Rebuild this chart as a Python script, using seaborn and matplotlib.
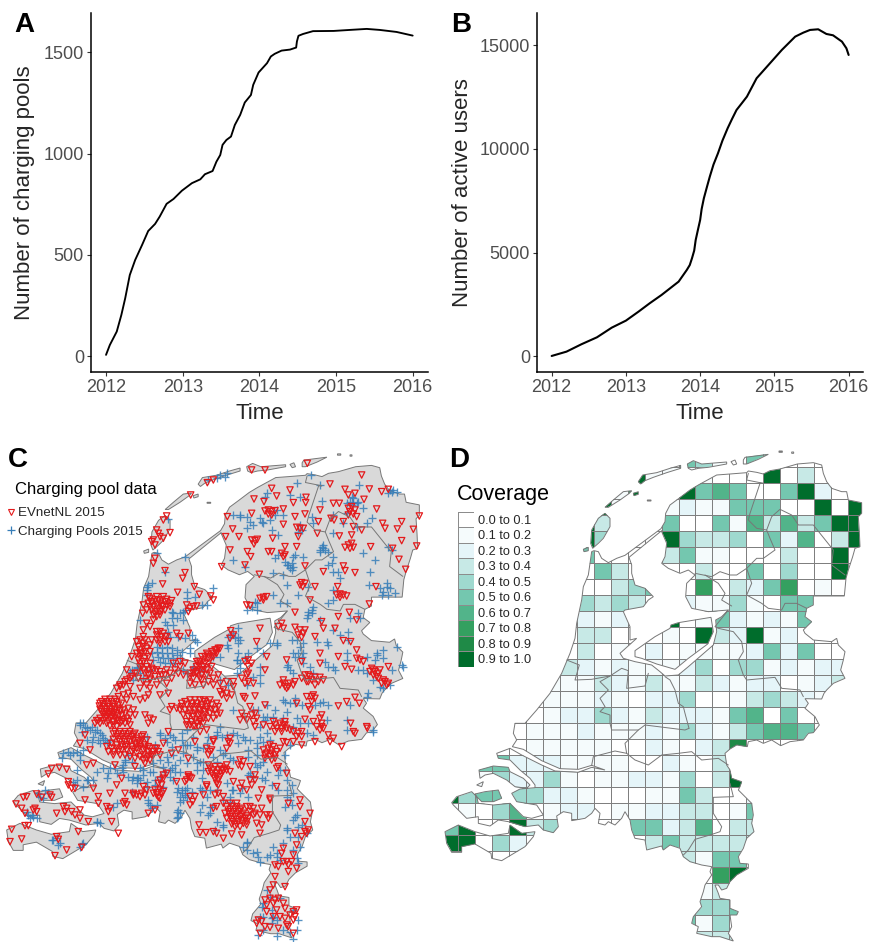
import matplotlib
matplotlib.use('Agg')
import matplotlib.pyplot as plt
import numpy as np
import pandas as pd
import seaborn as sns
from matplotlib.colors import ListedColormap
from matplotlib.lines import Line2D
from matplotlib.patches import PathPatch
from matplotlib.path import Path

pool_years = [2012, 2012.05, 2012.14, 2012.2, 2012.25, 2012.31, 2012.38, 2012.47, 2012.55, 2012.64, 2012.7, 2012.79,
              2012.88, 2012.99, 2013.12, 2013.23, 2013.29, 2013.39, 2013.44, 2013.49, 2013.52, 2013.57, 2013.63,
              2013.68, 2013.75, 2013.81, 2013.89, 2013.92, 2013.99, 2014.1, 2014.15, 2014.2, 2014.29, 2014.4,
              2014.48, 2014.49, 2014.51, 2014.57, 2014.7, 2014.97, 2015.18, 2015.4, 2015.57, 2015.79, 2016]
pool_counts = [7, 56, 122, 204, 286, 401, 475, 549, 618, 653, 689, 752, 776, 817, 854, 873, 898, 914, 960, 993, 1043,
               1067, 1084, 1141, 1191, 1252, 1289, 1339, 1400, 1446, 1479, 1492, 1508, 1513, 1523, 1553, 1581, 1590,
               1604, 1605, 1610, 1615, 1610, 1600, 1582]
user_years = [2012, 2012.2, 2012.4, 2012.61, 2012.81, 2013, 2013.17, 2013.32, 2013.48, 2013.71, 2013.82, 2013.86, 2013.89,
              2013.92, 2013.94, 2013.97, 2014, 2014.02, 2014.05, 2014.09, 2014.13, 2014.18, 2014.24, 2014.3, 2014.37, 2014.43,
              2014.49, 2014.56, 2014.63, 2014.76, 2014.92, 2015.1, 2015.28, 2015.39, 2015.48, 2015.59, 2015.7, 2015.79,
              2015.91, 2015.97, 2016]
user_counts = [16, 225, 579, 916, 1383, 1720, 2154, 2556, 2958, 3601, 4164, 4400, 4727, 5100, 5611, 6100, 6576, 7100,
               7621, 8150, 8666, 9250, 9791, 10400, 10997, 11450, 11881, 12200, 12524, 13408, 14051, 14775, 15418, 15611,
               15740, 15772, 15547, 15482, 15177, 14855, 14534]
years = [2012, 2013, 2014, 2015, 2016]

# map outlines, in thirds of a pixel of the panel D map
main_ring = [(470,335),(477,332),(490,335),(500,355),(520,368),(545,355),(570,346),(678,266),(690,245),(692,220),(705,195),
             (732,175),(765,150),(790,135),(845,105),(885,102),(935,98),(940,93),(965,97),(985,102),(1005,92),(1035,87),
             (1087,72),(1135,68),(1160,75),(1165,100),(1175,125),(1190,145),(1220,155),(1235,155),(1240,180),(1280,188),
             (1280,220),(1270,230),(1273,275),(1275,320),(1260,325),(1253,350),(1240,390),(1233,415),(1228,468),(1135,468),
             (1135,495),(1115,505),(1110,530),(1130,545),(1105,570),(1110,580),(1135,600),(1190,605),(1205,595),(1210,615),
             (1230,635),(1225,660),(1217,690),(1230,715),(1195,730),(1175,750),(1167,760),(1160,777),(1110,776),(1120,790),
             (1110,805),(1140,830),(1153,855),(1135,878),(1120,880),(1105,900),(1065,905),(1037,917),(1010,900),(985,910),
             (965,900),(940,905),(937,920),(905,915),(885,927),(870,940),(875,975),(885,990),(890,1015),(920,1025),(915,1040),
             (910,1050),(930,1070),(950,1090),(955,1125),(950,1150),(957,1175),(935,1195),(925,1225),(910,1250),(915,1270),
             (940,1272),(940,1285),(905,1305),(885,1325),(875,1345),(860,1350),(850,1335),(840,1335),(850,1360),(855,1375),
             (885,1380),(885,1405),(910,1415),(905,1425),(885,1425),(890,1460),(880,1480),(895,1503),(855,1490),(830,1490),
             (785,1480),(790,1460),(770,1450),(775,1430),(800,1400),(795,1385),(805,1355),(810,1335),(830,1305),(825,1295),
             (830,1280),(800,1275),(765,1265),(745,1250),(735,1225),(705,1215),(685,1230),(680,1218),(635,1230),(630,1200),
             (600,1195),(590,1170),(585,1140),(570,1115),(560,1135),(540,1155),(520,1145),(510,1155),(490,1150),(495,1120),
             (480,1105),(470,1120),(450,1135),(410,1142),(410,1120),(385,1115),(365,1128),(370,1160),(355,1178),(325,1170),
             (310,1155),(270,1160),(220,1145),(190,1140),(165,1158),(130,1150),(130,1130),(95,1135),(55,1095),(50,1088),
             (65,1070),(110,1055),(125,1070),(130,1090),(175,1095),(225,1090),(265,1130),(290,1135),(325,1125),(305,1095),
             (245,1085),(230,1060),(255,1047),(300,1043),(300,1035),(285,1015),(255,990),(225,960),(190,955),(185,940),
             (225,925),(260,945),(320,975),(360,993),(430,997),(470,982),(510,990),(470,976),(430,988),(375,986),(320,962),
             (265,928),(232,920),(245,900),(235,880),(240,850),(270,850),(305,810),(345,760),(380,700),(405,640),(420,595),
             (425,550),(440,480),(445,440),(460,405),(465,370)]
lake_ring = [(582,352),(590,375),(590,400),(600,435),(630,445),(655,470),(640,480),(625,500),(570,510),(565,515),(585,560),
             (585,600),(605,595),(555,640),(565,655),(600,665),(650,675),(675,695),(690,708),(730,705),(760,680),(835,615),
             (845,575),(842,540),(860,530),(880,510),(820,515),(770,505),(752,470),(755,430),(780,405),(760,390),(735,400),
             (700,385),(680,370),(690,350),(695,310),(680,275),(680,272)]
flevoland_ring = [(600,632),(660,590),(705,565),(708,555),(730,548),(828,532),(835,575),(818,612),(760,655),(720,688),
                  (665,672),(620,655),(600,650)]
island_rings = [
    [(510,220),(525,235),(525,260),(505,295),(490,310),(473,325),(467,310),(470,270),(490,235)],
    [(445,328),(460,322),(460,332),(447,335)],
    [(510,202),(535,180),(565,155),(590,152),(583,160),(555,180),(520,202)],
    [(595,160),(610,155),(610,163),(597,167)],
    [(637,180),(648,180),(648,183),(637,183)],
    [(610,125),(623,105),(665,98),(705,85),(737,76),(737,85),(695,98),(655,112),(630,122),(617,132)],
    [(757,72),(775,62),(800,72),(875,66),(875,72),(820,82),(790,85),(770,90),(760,85)],
    [(888,65),(900,60),(905,72),(895,75)],
    [(925,60),(930,52),(1000,43),(970,58),(935,72),(925,72)],
    [(1032,33),(1042,33),(1042,37),(1032,37)],
    [(1070,36),(1076,36),(1076,40),(1070,40)],
    [(132,990),(175,978),(220,982),(225,995),(265,1015),(285,1035),(275,1045),(240,1040),(215,1020),(175,1000),(150,1005),(135,1015)],
    [(120,1062),(150,1055),(190,1050),(200,1075),(175,1085),(140,1085),(125,1070)],
    [(125,1035),(145,1025),(140,1040)],
    [(30,1175),(70,1155),(120,1175),(165,1188),(220,1180),(225,1155),(260,1180),(300,1175),(295,1190),(270,1220),(200,1262),
     (170,1255),(168,1240),(120,1212),(80,1220),(80,1237),(50,1237),(35,1210)],
]
province_lines = [
    [(940,100),(935,120),(985,130),(975,130),(965,160),(945,220),(940,240),(965,265),(995,270),(1010,230),(1035,208),(1070,225),
     (1090,255),(1135,255),(1195,330),(1190,375),(1230,405)],
    [(995,270),(1005,295),(1020,330),(985,355),(965,355),(935,385),(905,405),(885,405),(855,395),(830,410),(780,400)],
    [(935,385),(950,430),(935,465),(980,490),(1000,505),(1040,510),(1050,490),(1085,490),(1115,505)],
    [(810,405),(850,430),(870,460),(860,480),(890,498)],
    [(880,510),(840,560),(850,565),(895,575),(920,605),(925,635),(910,660),(925,705),(935,720),(1020,712),(1040,745),(1095,750),(1105,770)],
    [(395,660),(433,675),(420,720),(470,718),(525,708),(560,685),(580,692)],
    [(525,708),(495,725),(520,750),(495,775),(510,800),(495,815),(525,825),(525,850),(530,870),(610,870),(630,855),(750,870),(762,865)],
    [(580,692),(575,745),(630,738),(640,700)],
    [(690,710),(705,720),(720,750),(730,790),(745,800),(750,820),(762,865)],
    [(610,870),(570,910),(575,940)],
    [(470,976),(475,950),(540,933),(575,940),(600,960),(640,975),(680,945),(730,940),(770,935),(800,960),(850,955),(880,975)],
    [(885,1030),(895,1070),(835,1072),(835,1120),(860,1160),(855,1175),(825,1185),(780,1198),(760,1230),(745,1245)],
]

# coverage class per grid cell, 0 means 0.0 to 0.1 and 9 means 0.9 to 1.0
coverage_rows = [
    [0,0,0,0,0,0,0,0,0,0,0,0,0,0,0,0,0,0,0,0,0,0,0,0,0],
    [0,0,0,0,0,0,0,0,0,0,0,0,0,0,5,4,1,0,5,5,0,0,0,0,0],
    [0,0,0,0,0,0,0,0,0,0,0,9,1,1,1,1,0,0,0,9,0,3,0,0,0],
    [0,0,0,0,0,0,0,0,0,0,1,9,0,0,9,5,6,5,0,0,5,9,2,0,0],
    [0,0,0,0,0,0,0,0,0,9,1,0,0,1,2,1,1,5,5,5,0,0,9,0,9],
    [0,0,0,0,0,0,0,0,9,3,0,0,0,5,0,0,5,1,6,3,6,3,5,9,9],
    [0,0,0,0,0,0,0,0,9,4,0,0,0,9,4,3,3,4,0,5,2,6,0,3,9],
    [0,0,0,0,0,0,0,0,5,0,0,0,0,3,5,1,1,0,0,0,3,0,0,9,0],
    [0,0,0,0,0,0,0,0,0,5,3,0,0,0,0,3,0,0,5,0,4,0,0,9,0],
    [0,0,0,0,0,0,0,0,0,0,3,4,5,0,0,7,0,3,2,5,7,0,1,0,0],
    [0,0,0,0,0,0,0,0,4,3,4,3,0,0,2,1,1,4,1,0,5,5,0,0,0],
    [0,0,0,0,0,0,0,0,2,1,2,0,0,9,0,1,5,2,1,2,1,5,0,0,0],
    [0,0,0,0,0,0,0,0,3,3,0,0,0,1,0,9,3,2,9,1,2,0,0,0,0],
    [0,0,0,0,0,0,0,0,3,0,1,0,2,0,1,1,1,1,2,5,2,5,0,0,0],
    [0,0,0,0,0,0,0,3,2,1,2,1,1,1,2,4,0,4,4,1,2,1,2,2,0],
    [0,0,0,0,0,0,1,1,1,3,2,1,3,1,1,3,2,1,2,2,0,1,2,3,0],
    [0,0,0,0,0,0,1,1,1,2,1,0,2,2,4,0,0,1,3,4,3,2,1,0,0],
    [0,0,0,0,0,0,1,2,2,4,2,1,3,2,2,2,1,5,6,0,5,0,0,0,0],
    [0,0,0,0,0,1,1,1,2,1,1,1,2,1,4,2,1,3,5,6,6,5,0,0,0],
    [0,0,0,0,0,1,1,1,1,1,0,0,2,1,0,2,3,8,0,0,0,0,0,0,0],
    [0,0,5,5,2,2,2,1,1,1,1,0,0,2,1,0,3,0,0,0,0,0,0,0,0],
    [0,0,1,4,2,2,4,1,0,1,1,2,2,1,4,0,3,9,0,0,0,0,0,0,0],
    [9,4,5,5,4,4,2,2,1,0,0,0,1,1,5,3,0,0,2,0,0,0,0,0,0],
    [1,1,0,4,6,0,1,2,2,0,1,1,2,2,3,3,0,1,5,0,0,0,0,0,0],
    [5,9,0,0,9,3,4,0,0,0,0,5,5,2,3,6,0,3,3,0,0,0,0,0,0],
    [9,9,0,4,2,0,0,0,0,0,0,0,3,5,3,3,3,3,3,0,0,0,0,0,0],
    [9,0,0,0,0,0,0,0,0,0,0,0,0,0,3,1,5,5,0,0,0,0,0,0,0],
    [0,0,0,0,0,0,0,0,0,0,0,0,0,0,0,0,7,9,0,0,0,0,0,0,0],
    [0,0,0,0,0,0,0,0,0,0,0,0,0,0,0,1,3,0,0,0,0,0,0,0,0],
    [0,0,0,0,0,0,0,0,0,0,0,0,0,0,0,4,4,5,0,0,0,0,0,0,0],
    [0,0,0,0,0,0,0,0,0,0,0,0,0,0,5,1,4,0,0,0,0,0,0,0,0],
    [0,0,0,0,0,0,0,0,0,0,0,0,0,0,0,3,3,3,0,0,0,0,0,0,0],
]
coverage_labels = ['0.0 to 0.1', '0.1 to 0.2', '0.2 to 0.3', '0.3 to 0.4', '0.4 to 0.5',
                   '0.5 to 0.6', '0.6 to 0.7', '0.7 to 0.8', '0.8 to 0.9', '0.9 to 1.0']
coverage_colors = ['#FFFFFF', '#F5FBFC', '#E5F5F9', '#C7E9E6', '#9FD9CF',
                   '#74C7AF', '#52B48A', '#34A060', '#1F8A47', '#006D2C']

# charging points in panel C, thirds of a pixel; *_north from y 440 down, *_south from y 690 down
evnet_north = [(622,128),(640,120),(755,90),(795,90),(922,70),(572,165),(500,228),(490,240),(470,270),(480,290),(490,295),(510,278),
    (455,305),(465,315),(460,300),(475,280),(465,355),(460,370),(495,392),(555,398),(488,432),(548,415),(583,440),(533,457),(598,463),
    (632,468),(640,480),(450,475),(465,480),(480,490),(495,485),(510,490),(460,500),(475,505),(490,500),(465,520),(480,515),(430,495),
    (428,520),(440,510),(560,495),(570,505),(580,500),(590,498),(565,515),(440,550),(430,570),(450,560),(460,540),(470,585),(485,590),
    (495,605),(480,600),(490,580),(410,605),(430,590),(415,620),(530,580),(540,590),(565,580),(430,610),(440,625),(425,640),(445,650),
    (430,665),(450,670),(430,690),(445,705),(650,630),(635,635),(620,640),(605,650),(625,655),(600,665),(615,670),(590,680),(692,572),
    (700,585),(690,595),(780,565),(770,605),(845,550),(835,560),(850,565),(885,562),(900,570),(910,580),(895,585),(905,592),(915,570),
    (945,590),(970,565),(965,545),(1005,565),(1030,602),(1052,605),(1070,630),(885,517),(1015,530),(1048,517),(1070,540),(815,145),
    (830,168),(870,150),(880,188),(918,172),(917,188),(762,177),(792,185),(755,220),(682,230),(698,267),(677,290),(717,290),(690,330),
    (742,335),(752,350),(665,380),(735,375),(778,403),(818,295),(895,290),(890,320),(850,207),(885,230),(915,222),(850,253),(960,210),
    (955,245),(952,280),(990,132),(1085,105),(1108,147),(1145,155),(1165,148),(1035,148),(1045,165),(1065,160),(1092,178),(1000,190),
    (1018,190),(1130,207),(1205,245),(1148,250),(1155,265),(1192,267),(1240,268),(1205,302),(1258,228),(1250,318),(1217,388),(1197,358),
    (1178,325),(1112,320),(1085,270),(1060,260),(1055,285),(1018,288),(1002,240),(1030,245),(993,235),(795,213),(805,210),(815,215),
    (825,212),(805,222),(815,225),(1045,205),(1055,200),(1065,210),(1050,215),(1060,222),(1070,230),(1045,225),(900,265),(890,262),
    (910,265),(755,300),(765,302),(772,298),(762,312),(1035,322),(1045,315),(1055,310),(1050,325),(1060,322),(805,335),(815,335),
    (845,340),(855,345),(850,350),(855,320),(905,428),(915,430),(900,435),(908,440),(1020,462),(1010,465),(1030,465),(1040,468),
    (1020,472),(790,472),(800,470),(780,475),(790,480),(740,495),(750,497),(915,378),(970,395),(1030,378),(1035,392),(1065,398),
    (1013,440),(945,440),(1128,440),(1108,492),(930,480),(1115,685),(1125,695),(1135,700),(1110,695),(1130,710),(1120,705),(1155,725),
    (1165,730),(1145,730),(1165,680),(1080,660),(1070,655),(1090,665),(1035,680),(1055,688),(1015,650),(960,640),(960,670),(905,665),
    (860,660),(800,650),(795,690),(745,660),(755,670),(735,665),(745,680),(740,705),(915,705),(930,710),(945,712),(925,725),(960,712),
    (850,720),(870,730),(855,740),(885,725),(540,665),(520,670),(500,690),(480,695),(460,690),(395,650),(380,690),(360,740),(610,690),
    (630,700),(570,700),(580,715),(605,720),(640,735),(360,735),(375,725),(390,715),(405,700),(415,715),(430,725),(450,720),(465,710),
    (480,720),(495,705),(510,700),(525,690),(540,680),(555,670),(570,730),(590,700),(600,715),(620,705),(625,725),(640,715),(660,730),
    (700,725),(735,730),(745,700),(850,730),(865,740),(880,735),(925,705),(935,720),(945,735),(860,745),(700,740),(500,730),(450,745),
    (420,745),(390,740),(420,600),(435,600),(450,615),(420,630),(435,635),(450,635),(420,650),(435,655),(420,670),(440,680),(455,685),
    (420,680),(435,700),(450,715),(470,690),(455,600),(470,600),(480,610),(495,590),(445,470),(455,485),(470,470),(485,480),(500,478),
    (515,482),(455,490),(470,495),(485,498),(500,495),(455,510),(470,515),(485,510),(470,530),(480,525),(460,525),(640,640),(655,625),
    (640,650),(625,645),(610,660),(595,670),(610,680),(625,670),(600,690),(590,695),(605,705),(620,690),(635,680),(580,690),(570,710),
    (650,640),(660,625),(635,650),(600,675),(580,700),(590,665),(615,650),(645,630),(420,640),(430,620),(410,640),(415,660),(425,680),
    (410,700),(445,690),(395,710),(380,720),(370,735),(350,745),(440,735),(470,735),(485,705),(515,715),(535,700),(550,705),(585,735),
    (610,735),(655,705),(680,725),(725,715),(745,725),(760,730),(840,735),(920,725),(905,715),(955,725),(970,720),(1120,690),(1135,715),
    (1150,720),(1140,690),(1160,735),(470,575),(480,575),(500,590),(505,605),(450,500),(445,490),(495,510),(510,500),(475,480),(490,470)]
evnet_south = [(305,35),(320,35),(335,35),(350,35),(365,40),(310,50),(325,50),(340,50),(355,55),(305,65),(320,65),(335,65),(350,70),(370,60),
    (385,55),(390,75),(300,85),(315,85),(330,85),(345,85),(370,90),(385,95),(285,100),(300,100),(320,100),(340,105),(360,100),(345,125),
    (360,125),(375,125),(390,125),(405,130),(350,140),(365,140),(380,140),(395,140),(410,145),(425,150),(360,155),(375,155),(390,155),
    (405,160),(420,160),(435,165),(320,170),(335,175),(350,175),(395,170),(410,175),(430,180),(445,185),(460,185),(475,185),(440,205),
    (430,210),(455,195),(355,20),(370,15),(385,10),(400,20),(420,30),(435,25),(445,15),(480,15),(505,10),(380,30),(560,45),(575,40),
    (590,40),(605,45),(620,50),(635,45),(570,60),(585,60),(600,60),(615,65),(630,70),(565,80),(580,80),(595,75),(610,85),(575,95),
    (590,100),(625,40),(515,50),(510,60),(530,55),(545,50),(665,15),(680,10),(695,15),(680,25),(670,0),(660,5),(725,70),(735,80),
    (755,75),(765,70),(760,95),(765,110),(720,90),(740,90),(770,85),(825,105),(840,100),(855,105),(830,115),(845,115),(820,95),(880,125),
    (895,130),(905,125),(880,155),(905,165),(915,88),(940,95),(965,75),(965,110),(960,120),(970,115),(985,135),(990,155),(1000,145),
    (1025,170),(945,155),(1015,48),(1040,35),(1078,40),(1065,22),(1052,100),(1065,130),(1060,125),(1100,110),(1102,115),(925,50),(930,60),
    (935,20),(945,25),(940,15),(890,40),(765,18),(750,50),(735,25),(730,20),(795,45),(805,175),(820,170),(800,190),(815,190),(830,185),
    (810,200),(825,205),(830,235),(835,230),(860,250),(850,155),(860,158),(630,235),(645,230),(660,230),(675,235),(635,250),(650,250),
    (665,250),(645,265),(655,270),(650,280),(720,210),(730,215),(715,225),(725,230),(765,255),(700,275),(750,270),(755,285),(740,300),
    (785,300),(830,290),(810,330),(720,295),(725,280),(465,300),(480,300),(490,305),(470,315),(480,325),(460,310),(435,315),(420,320),
    (425,310),(400,315),(570,320),(585,320),(578,335),(610,315),(570,345),(320,350),(330,355),(325,365),(375,335),(380,345),(370,340),
    (680,350),(695,350),(710,350),(725,355),(685,365),(700,365),(715,365),(730,370),(690,380),(705,380),(720,380),(735,385),(700,395),
    (715,395),(730,400),(705,410),(750,365),(765,370),(760,375),(800,375),(810,375),(805,385),(785,355),(650,350),(640,355),(645,315),
    (655,310),(620,285),(670,320),(597,405),(600,428),(618,428),(640,425),(650,430),(670,445),(695,432),(725,435),(785,405),(780,430),
    (740,395),(770,400),(900,330),(900,350),(865,340),(930,370),(915,395),(925,420),(920,430),(915,425),(885,430),(890,465),(905,440),
    (850,475),(845,490),(880,495),(860,515),(875,515),(865,525),(850,515),(825,525),(835,530),(890,535),(865,545),(825,560),(820,585),
    (855,590),(810,600),(795,630),(810,625),(825,630),(835,625),(800,645),(820,640),(850,640),(855,655),(830,660),(880,665),(890,660),
    (870,675),(885,680),(880,690),(775,690),(785,695),(770,700),(800,665),(820,680),(840,680),(860,705),(865,710),(780,730),(795,710),
    (810,712),(835,715),(855,685),(880,730),(240,160),(255,135),(270,180),(260,225),(280,220),(345,225),(405,230),(365,265),(350,285),
    (280,295),(255,330),(295,320),(295,340),(330,310),(375,310),(400,310),(445,370),(465,360),(335,395),(355,430),(430,290),(155,235),
    (178,232),(200,238),(145,252),(205,275),(205,285),(215,295),(225,295),(70,322),(80,320),(48,342),(110,312),(125,322),(150,315),
    (155,322),(65,355),(75,370),(105,355),(110,365),(100,360),(170,370),(190,350),(200,355),(195,365),(215,365),(240,360),(225,375),
    (240,385),(265,395),(35,418),(30,455),(65,447),(75,407),(85,407),(170,440),(175,448),(235,425),(165,497),(200,480),(245,472),(490,265),
    (480,270),(500,250),(530,275),(565,255),(570,262),(555,275),(620,290),(640,155),(690,145),(685,155),(630,185),(625,195),(600,125),
    (620,120),(585,155),(505,125),(535,180),(515,190),(565,205),(490,160),(445,100),(435,75),(450,85),(460,90),(680,240),(750,230),
    (680,175),(810,325),(775,325),(765,270),(300,40),(315,28),(330,28),(345,28),(310,42),(325,42),(340,42),(355,45),(300,58),(315,58),
    (330,58),(345,60),(360,62),(310,75),(325,75),(340,75),(355,78),(295,92),(310,93),(325,93),(340,95),(355,92),(375,70),(380,85),
    (375,100),(390,105),(400,60),(405,75),(340,132),(355,132),(370,132),(385,132),(400,135),(340,148),(355,148),(370,148),(385,148),
    (400,150),(415,152),(365,165),(380,165),(400,178),(420,170),(435,175),(450,175),(325,185),(340,185),(355,185),(430,195),(445,200),
    (460,195),(420,200),(470,175),(440,150),(430,135),(555,35),(570,30),(585,30),(600,30),(615,35),(630,30),(645,60),(555,60),(575,50),
    (590,50),(605,52),(620,58),(635,58),(570,70),(585,70),(600,70),(615,75),(585,90),(600,90),(570,105),(585,110),(600,95),(650,75),
    (660,70),(640,240),(655,240),(670,242),(640,258),(660,260),(650,260),(665,238),(690,358),(705,358),(720,360),(695,372),(710,372),
    (725,375),(695,388),(710,388),(725,392),(710,403),(720,410),(740,378),(472,308),(485,312),(475,322),(920,20),(935,35),(960,85),
    (950,110),(965,100),(790,105),(810,110),(825,125),(845,125),(860,115),(855,95),(890,140),(905,140),(815,180),(825,195),(795,205),
    (815,210),(565,260),(575,265),(560,270),(490,255),(475,280),(485,285),(440,300),(410,315),(620,175),(635,180),(640,150),(690,160),
    (298,48),(313,70),(328,70),(343,68),(320,80),(335,80),(350,90),(365,75),(365,95),(330,108),(350,110),(290,92),(335,160),(350,165),
    (365,180),(380,180),(395,185),(410,190),(340,195),(375,170),(410,165),(425,140),(445,170),(465,175),(480,195),(450,210),(435,220),
    (405,205),(390,200),(375,195),(360,195),(545,40),(540,60),(550,75),(560,95),(655,50),(650,40),(610,30),(640,85),(625,85),(610,100),
    (595,110),(580,110),(560,105),(670,340),(690,340),(710,340),(740,350),(745,385),(680,385),(750,350),(675,370),(695,402),(740,405),
    (760,355),(780,375),(625,225),(680,225),(690,245),(625,245),(655,285),(790,180),(840,175),(795,195),(810,165),(850,105),(870,120)]
pools_north = [(625,120),(660,105),(680,100),(932,105),(890,128),(1078,135),(800,160),(795,170),(870,165),(965,183),(825,225),(750,245),
    (785,245),(720,225),(700,225),(760,255),(740,265),(815,270),(835,285),(960,135),(1060,190),(1040,190),(1055,195),(1075,185),(1040,220),
    (1115,235),(1180,150),(1190,155),(1165,320),(1125,360),(1090,340),(1175,330),(965,320),(960,330),(975,330),(970,325),(880,350),(910,350),
    (860,375),(870,385),(880,380),(855,365),(700,360),(735,380),(850,405),(820,400),(995,370),(1020,415),(1015,395),(1110,395),(1108,435),
    (1160,440),(1150,455),(1170,445),(1185,460),(1160,430),(1000,450),(925,440),(895,465),(860,435),(860,490),(820,465),(765,485),(770,510),
    (740,510),(925,515),(935,510),(960,540),(1000,570),(1045,575),(985,490),(1075,520),(980,605),(900,620),(910,640),(890,600),(1100,650),
    (1130,645),(1150,655),(1205,675),(1175,690),(1040,660),(1005,690),(985,680),(910,670),(830,615),(790,640),(770,625),(745,640),(710,660),
    (720,670),(690,585),(715,590),(680,615),(715,565),(555,510),(515,515),(540,520),(495,545),(520,555),(548,540),(445,435),(440,450),(495,395),
    (555,352),(470,340),(505,238),(560,455),(585,470),(640,445),(535,590),(575,585),(590,605),(470,620),(485,625),(500,620),(515,625),(530,630),
    (545,635),(470,635),(485,640),(500,640),(515,640),(530,645),(475,650),(490,655),(505,655),(520,655),(540,655),(480,665),(495,670),(510,670),
    (525,670),(460,660),(455,640),(410,680),(395,690),(420,700),(570,640),(575,690),(660,720),(685,735),(710,700),(780,705),(870,690),(860,680),
    (895,640),(930,680),(1000,680),(650,115),(675,110),(720,230),(740,230),(780,235),(790,250),(810,240),(830,210),(850,225),(900,170),(935,230),
    (940,250),(1000,280),(1070,260),(1055,170),(1060,175),(1050,185),(1070,190),(1090,205),(1100,250),(1170,150),(1165,160),(1175,155),(1030,250),
    (1000,225),(900,255),(905,270),(895,275),(875,370),(865,375),(875,390),(885,345),(835,345),(825,355),(960,335),(970,315),(985,335),(1000,350),
    (985,375),(1140,445),(1165,465),(1145,465),(1000,395),(840,490),(770,490),(755,500),(925,525),(940,500),(935,520),(920,535),(1000,480),(1050,535),
    (1080,535),(950,605),(985,615),(1020,585),(1045,600),(1130,640),(1150,630),(1190,620),(1210,680),(1090,690),(1040,640),(1075,690),(1125,660),
    (1100,700),(1120,720),(1170,735),(1140,740),(1150,745),(700,580),(720,600),(705,595),(715,610),(685,590),(640,650),(660,650),(685,625),(715,640),
    (735,650),(710,660),(720,685),(780,680),(740,735),(760,710),(780,730),(810,610),(830,610),(875,600),(880,640),(910,610),(905,650),(885,650),
    (865,675),(880,700),(940,700),(975,665),(520,520),(530,535),(500,555),(515,535),(550,515),(505,575),(555,595),(510,590),(585,600),(420,540),
    (440,440),(455,430),(440,465),(560,475),(605,495),(620,495),(410,685),(390,695),(400,720),(430,715),(450,690),(570,625),(580,680),(600,690),
    (550,690),(560,700)]
pools_south = [(240,100),(255,110),(270,120),(285,125),(300,130),(310,145),(295,150),(280,140),(320,155),(245,125),(275,155),(205,185),(230,185),
    (190,190),(240,195),(185,205),(375,210),(365,235),(345,235),(325,250),(320,265),(370,225),(400,260),(415,265),(385,260),(430,240),(460,245),
    (510,240),(525,225),(540,210),(480,135),(500,155),(520,140),(545,150),(515,170),(560,165),(590,180),(580,140),(610,215),(590,240),(605,265),
    (640,200),(660,180),(700,130),(735,150),(745,180),(715,160),(770,175),(780,140),(800,130),(820,80),(850,85),(800,45),(855,35),(885,40),
    (945,45),(970,35),(1040,90),(1105,10),(1120,120),(880,110),(870,165),(855,195),(790,215),(770,230),(750,250),(795,270),(835,255),(860,270),
    (875,285),(860,320),(875,345),(885,380),(860,415),(905,405),(895,440),(920,430),(830,500),(810,495),(770,485),(740,455),(730,470),(780,515),
    (890,505),(545,300),(555,315),(540,320),(530,305),(550,330),(560,295),(465,285),(490,290),(445,340),(455,355),(535,360),(530,385),(600,365),
    (630,370),(635,350),(605,300),(620,320),(695,300),(690,320),(720,310),(745,320),(670,405),(650,395),(340,350),(290,395),(95,375),(110,385),
    (85,375),(115,310),(135,300),(230,270),(265,270),(225,285),(160,450),(180,460),(245,462),(410,265),(420,270),(440,275),(510,260),(525,245),
    (440,140),(465,165),(620,160),(650,125),(675,190),(560,120),(660,110),(790,80),(775,60),(700,60),(820,680),(815,685),(790,680),(775,735),
    (830,737),(880,748),(895,690),(785,650),(815,660),(240,105),(250,100),(260,115),(275,110),(290,120),(305,135),(260,150),(300,160),(315,150),
    (330,150),(250,180),(210,195),(220,190),(240,210),(290,245),(310,235),(330,235),(350,250),(370,245),(395,270),(410,280),(440,290),(465,270),
    (490,230),(505,215),(495,245),(515,235),(480,260),(540,245),(520,270),(535,295),(545,310),(540,335),(555,300),(560,320),(575,305),(600,295),
    (630,300),(650,300),(680,280),(700,300),(725,295),(745,255),(760,260),(785,265),(800,245),(840,240),(855,240),(815,285),(835,300),(860,300),
    (880,310),(870,330),(855,350),(880,390),(890,375),(895,410),(860,420),(870,440),(900,470),(880,480),(850,460),(820,470),(830,490),(800,500),
    (740,480),(760,490),(775,500),(840,510),(895,520),(800,600),(810,620),(790,640),(780,680),(790,720),(815,700),(830,690),(850,720),(870,725),
    (890,720),(880,660),(840,625),(170,445),(155,450),(175,465),(250,460),(240,470),(100,380),(90,385),(80,365),(120,320),(145,310),(130,325),
    (230,240),(220,275),(260,270),(280,270),(250,290),(290,395),(300,400),(445,330),(450,345),(470,345),(395,305),(350,340),(530,365),(540,370),
    (535,380),(625,375),(630,350),(605,345),(690,335),(670,330),(670,410),(645,420),(740,460),(480,130),(495,145),(510,135),(525,150),(545,130),
    (550,165),(570,165),(590,170),(610,175),(625,140),(650,135),(665,140),(680,135),(710,135),(730,140),(750,150),(770,160),(790,155),(810,150),
    (780,110),(795,90),(800,80),(760,60),(825,60),(850,30),(870,40),(885,25),(905,45),(960,40),(985,45),(1050,45),(1100,20),(1040,120),(1120,125),
    (980,90),(925,100),(900,100),(890,85),(860,65),(920,130),(940,135),(650,215),(670,195),(690,205),(700,210),(745,200),(770,195),(765,220),
    (780,225),(600,215),(610,240),(590,220),(580,200),(550,190),(560,220),(520,195),(500,200),(480,210),(460,220),(450,245),(430,255),(420,235),
    (395,215),(385,195),(375,215)]

pool_df = pd.DataFrame({'year': pool_years, 'count': pool_counts})
user_df = pd.DataFrame({'year': user_years, 'count': user_counts})
evnet_df = pd.DataFrame(evnet_north + [(u, v + 750) for u, v in evnet_south], columns=['u', 'v'])
pools_df = pd.DataFrame(pools_north + [(u, v + 750) for u, v in pools_south], columns=['u', 'v'])

sns.set_theme(style='ticks')
plt.rcParams['font.family'] = ['Liberation Sans', 'DejaVu Sans']

W, H = 870, 942
fig = plt.figure(figsize=(W / 100, H / 100), dpi=100)


def px_axes(left, top, right, bottom):
    return fig.add_axes([left / W, 1 - bottom / H, (right - left) / W, (bottom - top) / H])


def plot_series(ax, df, xlim, ylim, yticks, ylabel, lw, ypad):
    sns.lineplot(data=df, x='year', y='count', color='black', linewidth=lw, ax=ax)
    ax.set_xlim(*xlim)
    ax.set_ylim(*ylim)
    ax.set_xticks(years)
    ax.set_xticklabels([str(y) for y in years])
    ax.set_yticks(yticks)
    ax.set_xlabel('Time', fontsize=16, labelpad=5)
    ax.set_ylabel(ylabel, fontsize=16, labelpad=ypad)
    ax.tick_params(labelsize=13, labelcolor='#4D4D4D', color='#333333', length=3, width=0.8, pad=2)
    sns.despine(ax=ax)
    for side in ['left', 'bottom']:
        ax.spines[side].set_linewidth(1.1)
        ax.spines[side].set_color('black')


def map_path(scale_u=1.0, shift_u=0.0, scale_v=1.0, shift_v=0.0):
    verts, codes = [], []

    def add(points, clockwise):
        pts = np.array(points, dtype=float)
        area = np.sum(pts[:, 0] * np.roll(pts[:, 1], -1) - np.roll(pts[:, 0], -1) * pts[:, 1])
        if (area > 0) != clockwise:
            pts = pts[::-1]
        pts = pts * [scale_u, scale_v] + [shift_u, shift_v]
        verts.extend(pts.tolist() + [pts[0].tolist()])
        codes.extend([Path.MOVETO] + [Path.LINETO] * (len(pts) - 1) + [Path.CLOSEPOLY])

    add(main_ring, True)
    add(lake_ring, False)
    add(flevoland_ring, True)
    for ring in island_rings:
        add(ring, True)
    return Path(verts, codes)


# A and B
ax_a = px_axes(91, 13.3, 427.7, 372.3)
plot_series(ax_a, pool_df, (2011.804, 2016.196), (-79, 1692), [0, 500, 1000, 1500], 'Number of charging pools', 1.35, 6)
ax_b = px_axes(537, 13.3, 863.3, 372.3)
plot_series(ax_b, user_df, (2011.8025, 2016.1975), (-772, 16543), [0, 5000, 10000, 15000], 'Number of active users', 1.5, 5)

# C
ax_c = px_axes(0, 440, 435, 942)
ax_c.set_xlim(0, 1305)
ax_c.set_ylim(1506, 0)
ax_c.axis('off')
ax_c.add_patch(PathPatch(map_path(0.9904, -9.7, 0.988, 9), facecolor='#D9D9D9', edgecolor='#777777', linewidth=0.7))
for line in province_lines:
    pts = np.array(line, dtype=float) * [0.9904, 0.988] + [-9.7, 9]
    ax_c.plot(pts[:, 0], pts[:, 1], color='#777777', linewidth=0.7)
sns.scatterplot(data=pools_df, x='u', y='v', marker='+', color='#377EB8', s=36, linewidth=0.95, alpha=0.85, legend=False, ax=ax_c)
sns.scatterplot(data=evnet_df, x='u', y='v', marker='v', color='#E41A1C', edgecolor='#E41A1C', s=21, linewidth=0.9, legend=False, ax=ax_c)
ax_c.collections[-1].set_facecolor('none')
ax_c.set_xlim(0, 1305)
ax_c.set_ylim(1506, 0)
handles = [Line2D([], [], linestyle='none', marker='v', markerfacecolor='none', markeredgecolor='#E41A1C', markeredgewidth=0.8, markersize=4.5),
           Line2D([], [], linestyle='none', marker='+', color='#377EB8', markeredgewidth=0.9, markersize=5.5)]
ax_c.legend(handles, ['EVnetNL 2015', 'Charging Pools 2015'], loc='upper left', bbox_to_anchor=(3 / W, 1 - 507 / H),
            bbox_transform=fig.transFigure, frameon=False, fontsize=9.6, handletextpad=-0.1, labelspacing=0.45,
            borderpad=0, borderaxespad=0, handlelength=1.2)
fig.text(15 / W, 1 - 494 / H, 'Charging pool data', fontsize=12, color='black', ha='left', va='baseline')

# D, grid cells are 50.9 by 48 map units, first cell corner at (18, -14)
cell_u, cell_v, start_u, start_v = 50.9, 48.0, 18.0, -14.0
ax_d = px_axes(435, 440, 870, 942)
palette = ListedColormap(coverage_colors)
sns.heatmap(pd.DataFrame(coverage_rows), cmap=palette, vmin=-0.5, vmax=9.5, cbar=False, linewidths=0.65, linecolor='#7F7F7F',
            xticklabels=False, yticklabels=False, ax=ax_d)
ax_d.set_xlim((0 - start_u) / cell_u, (1305 - start_u) / cell_u)
ax_d.set_ylim((1506 - start_v) / cell_v, (0 - start_v) / cell_v)
ax_d.set_xlabel('')
ax_d.set_ylabel('')
ax_d.axis('off')
scale_u, scale_v = 1 / cell_u, 1 / cell_v
outline = PathPatch(map_path(scale_u, -start_u / cell_u, scale_v, -start_v / cell_v), facecolor='none', edgecolor='#777777', linewidth=0.7)
ax_d.add_patch(outline)
ax_d.collections[0].set_clip_path(outline)
for line in province_lines:
    pts = (np.array(line, dtype=float) - [start_u, start_v]) * [scale_u, scale_v]
    ax_d.plot(pts[:, 0], pts[:, 1], color='#777777', linewidth=0.7)

# coverage legend
ax_key = px_axes(458.3, 511.7, 474.3, 666.7)
sns.heatmap(pd.DataFrame({'c': list(range(10))}), cmap=palette, vmin=-0.5, vmax=9.5, cbar=False, linewidths=0.65, linecolor='#8C8C8C',
            xticklabels=False, yticklabels=coverage_labels, ax=ax_key)
ax_key.set_ylabel('')
ax_key.yaxis.tick_right()
ax_key.tick_params(axis='y', length=0, pad=3, labelsize=9.2, labelrotation=0)
fig.text(457 / W, 1 - 500 / H, 'Coverage', fontsize=15.5, color='black', ha='left', va='baseline')

# panel letters
for letter, x, y in [('A', 14, 32), ('B', 451, 32), ('C', 8, 467), ('D', 449, 467)]:
    fig.text(x / W, 1 - y / H, letter, fontsize=20, fontweight='bold', color='black', ha='left', va='baseline')

fig.savefig('out.png', dpi=100, facecolor='white')
